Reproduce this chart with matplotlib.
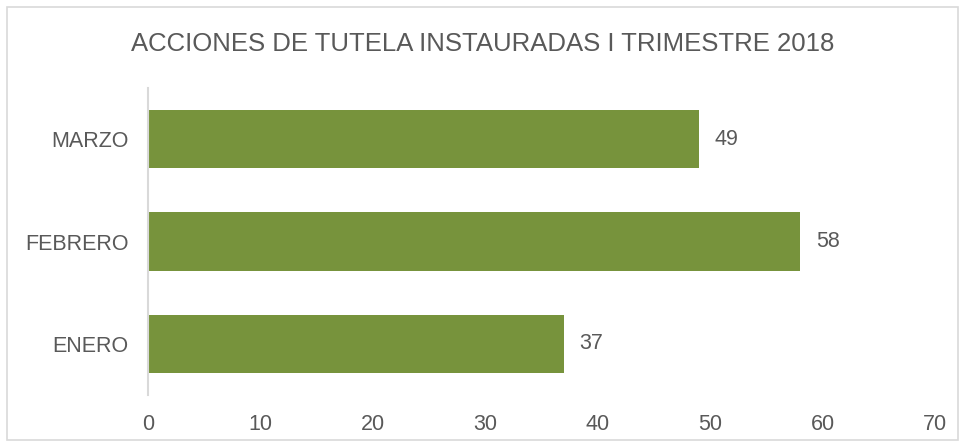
import matplotlib.pyplot as plt
from matplotlib.patches import Rectangle

plt.rcParams['font.family'] = ['Liberation Sans', 'DejaVu Sans']

meses = ['ENERO', 'FEBRERO', 'MARZO']
acciones = [37, 58, 49]
titulo = 'ACCIONES DE TUTELA INSTAURADAS I TRIMESTRE 2018'

gris = '#595959'
verde = '#77933C'

fig = plt.figure(figsize=(9.66, 4.48), dpi=100)
ax = fig.add_axes([148 / 966, 1 - 395 / 448, 787 / 966, 307 / 448])

bars = ax.barh(meses, acciones, height=0.57, color=verde)
for b, v in zip(bars, acciones):
    ax.text(v + 1.4, b.get_y() + b.get_height() / 2, str(v),
            va='center', ha='left', fontsize=15.5, color=gris)

ax.set_xlim(0, 70)
ax.set_ylim(-0.5, 2.5)
ax.set_xticks(range(0, 71, 10))
ax.tick_params(axis='both', length=0, labelsize=15.5, labelcolor=gris)
ax.tick_params(axis='x', pad=14)
ax.tick_params(axis='y', pad=14)
for s in ['top', 'right', 'bottom']:
    ax.spines[s].set_visible(False)
ax.spines['left'].set_color('#D9D9D9')
ax.spines['left'].set_linewidth(1.5)

fig.text(0.5, 1 - 44 / 448, titulo, ha='center', va='center',
         fontsize=18.5, color=gris)

fig.patches.append(Rectangle((7 / 966, 8 / 448), 951 / 966, 433 / 448,
                             transform=fig.transFigure, fill=False,
                             edgecolor='#D9D9D9', linewidth=1.2))

fig.savefig('out.png', dpi=100)
